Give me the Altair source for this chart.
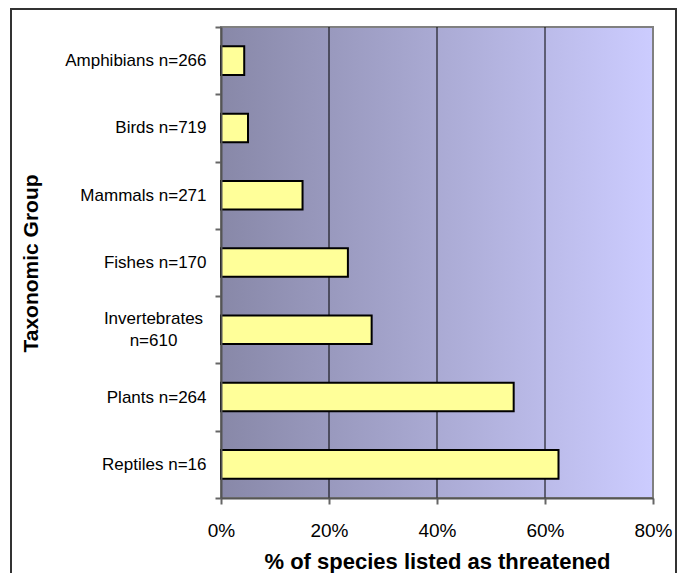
import altair as alt
import pandas as pd

categories = ["Amphibians n=266", "Birds n=719", "Mammals n=271", "Fishes n=170",
              "Invertebrates n=610", "Plants n=264", "Reptiles n=16"]
pct_threatened = [4.3, 5.0, 15.1, 23.5, 27.9, 54.2, 62.5]
x_ticks = [0, 20, 40, 60, 80]
grid_values = [20, 40, 60]

df = pd.DataFrame({"group": categories, "pct": pct_threatened})
grid_df = pd.DataFrame({"pct": grid_values})

W, H = 432, 471
BAR_BAND = 0.425
FONT = "Liberation Sans"
SPLIT = "Invertebrates n=610"
IS_SPLIT = f"datum.value === '{SPLIT}'"

y_axis = alt.Axis(
    title="Taxonomic Group",
    tickBand="extent",
    zindex=1,
    domainColor="#555555", domainWidth=2,
    tickColor="#666666", tickWidth=2, tickSize=6,
    labelFont=FONT, labelFontSize=17, labelColor="black",
    labelExpr=f"{IS_SPLIT} ? ['Invertebrates', 'n=610'] : datum.value",
    labelAlign={"condition": {"test": IS_SPLIT, "value": "center"}, "value": "right"},
    labelPadding={"condition": {"test": IS_SPLIT, "value": 62}, "value": 9},
    labelOffset={"condition": {"test": IS_SPLIT, "value": -11}, "value": 0},
    labelLineHeight=22, labelLimit=300,
    titleFont=FONT, titleFontSize=21, titleFontWeight="bold", titleColor="black",
    titleAngle=270, titleAlign="center", titleBaseline="alphabetic",
    titleX=-184, titleY=236,
)

x_axis = alt.Axis(
    title="% of species listed as threatened",
    values=x_ticks,
    labelExpr="datum.value + '%'",
    grid=False,
    zindex=1,
    domainColor="#555555", domainWidth=2,
    tickColor="#666666", tickWidth=2, tickSize=6,
    labelFont=FONT, labelFontSize=19, labelColor="black", labelPadding=17,
    labelFlush=False,
    titleFont=FONT, titleFontSize=22, titleFontWeight="bold", titleColor="black",
    titleBaseline="alphabetic", titleY=70,
)

x_scale = alt.Scale(domain=[0, 80], nice=False)

gradient = alt.LinearGradient(
    gradient="linear",
    stops=[alt.GradientStop(color="#8888A8", offset=0),
           alt.GradientStop(color="#CCCCFF", offset=1)],
    x1=0, x2=1, y1=0, y2=0,
)

one = pd.DataFrame({"a": [0]})

background = alt.Chart(one).mark_rect(color=gradient).encode(
    x=alt.value(0), x2=alt.value(W), y=alt.value(0), y2=alt.value(H)
)

border = alt.Chart(one).mark_rect(
    fillOpacity=0, stroke="#808080", strokeWidth=2
).encode(
    x=alt.value(0), x2=alt.value(W), y=alt.value(0), y2=alt.value(H)
)

grid = alt.Chart(grid_df).mark_rule(color="black", strokeWidth=1).encode(
    x=alt.X("pct:Q", scale=x_scale, axis=x_axis)
)

bars = alt.Chart(df).mark_bar(
    color="#FFFF99", stroke="black", strokeWidth=2, height={"band": BAR_BAND}
).encode(
    y=alt.Y("group:N", sort=categories,
            scale=alt.Scale(paddingInner=0, paddingOuter=0), axis=y_axis),
    x=alt.X("pct:Q", scale=x_scale, axis=x_axis),
)

frame = alt.Chart(one).mark_rect(
    fillOpacity=0, stroke="#333333", strokeWidth=2
).encode(
    x=alt.value(-210), x2=alt.value(455), y=alt.value(-18), y2=alt.value(600)
)

chart = alt.layer(background, border, grid, bars, frame).properties(
    width=W, height=H,
    autosize=alt.AutoSizeParams(type="none"),
    padding={"left": 213, "top": 19, "right": 27, "bottom": 75},
    background="white",
).configure_view(
    stroke=None
)

chart.save("out.html", embed_options={"renderer": "svg", "actions": False})
